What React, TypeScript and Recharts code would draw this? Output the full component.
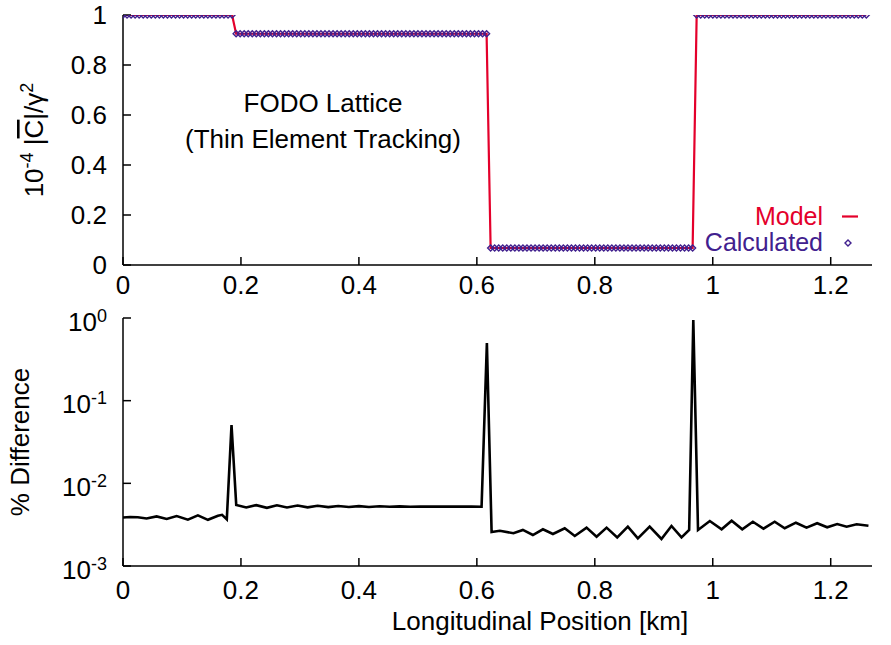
import React from 'react';
import { LineChart, Line, XAxis, YAxis } from 'recharts';

const FONT = '"Liberation Sans", Arial, Helvetica, sans-serif';
const RED = '#e4002b';
const VIOLET = '#41208e';

// tracking output positions along the lattice, one every TOP_STEP km
const TOP_STEP = 0.00685;

// 10^-4 |C|/gamma^2 , model
const modelValues = [
  1, 1, 1, 1, 1, 1, 1, 1, 1, 1, 1, 1, 1, 1, 1, 1, 1, 1, 1, 1, 1, 1, 1, 1, 1, 1, 1, 1,
  0.925, 0.925, 0.925, 0.925, 0.925, 0.925, 0.925, 0.925, 0.925, 0.925, 0.925, 0.925, 0.925,
  0.925, 0.925, 0.925, 0.925, 0.925, 0.925, 0.925, 0.925, 0.925, 0.925, 0.925, 0.925, 0.925,
  0.925, 0.925, 0.925, 0.925, 0.925, 0.925, 0.925, 0.925, 0.925, 0.925, 0.925, 0.925, 0.925,
  0.925, 0.925, 0.925, 0.925, 0.925, 0.925, 0.925, 0.925, 0.925, 0.925, 0.925, 0.925, 0.925,
  0.925, 0.925, 0.925, 0.925, 0.925, 0.925, 0.925, 0.925, 0.925, 0.925, 0.925,
  0.068, 0.068, 0.068, 0.068, 0.068, 0.068, 0.068, 0.068, 0.068, 0.068, 0.068, 0.068, 0.068,
  0.068, 0.068, 0.068, 0.068, 0.068, 0.068, 0.068, 0.068, 0.068, 0.068, 0.068, 0.068, 0.068,
  0.068, 0.068, 0.068, 0.068, 0.068, 0.068, 0.068, 0.068, 0.068, 0.068, 0.068, 0.068, 0.068,
  0.068, 0.068, 0.068, 0.068, 0.068, 0.068, 0.068, 0.068, 0.068, 0.068, 0.068, 0.068,
  1, 1, 1, 1, 1, 1, 1, 1, 1, 1, 1, 1, 1, 1, 1, 1, 1, 1, 1, 1, 1, 1,
  1, 1, 1, 1, 1, 1, 1, 1, 1, 1, 1, 1, 1, 1, 1, 1, 1, 1, 1, 1, 1,
];
// calculated values agree with the model to within the plot resolution
const calcValues = modelValues;

const xTicks = [0, 0.2, 0.4, 0.6, 0.8, 1, 1.2];
const topYTicks = [0, 0.2, 0.4, 0.6, 0.8, 1];
const logTicks = [0.001, 0.01, 0.1, 1];
const logMinorTicks = [
  0.002, 0.003, 0.004, 0.005, 0.006, 0.007, 0.008, 0.009,
  0.02, 0.03, 0.04, 0.05, 0.06, 0.07, 0.08, 0.09,
  0.2, 0.3, 0.4, 0.5, 0.6, 0.7, 0.8, 0.9,
];

// % difference
const diffX = [
  0, 0.012, 0.025, 0.04, 0.057, 0.074, 0.091, 0.11, 0.127, 0.144, 0.161, 0.168, 0.176,
  0.184, 0.192,
  0.209, 0.226, 0.244, 0.261, 0.278, 0.296, 0.313, 0.33, 0.348, 0.365, 0.383, 0.4,
  0.417, 0.435, 0.452, 0.469, 0.487, 0.504, 0.522, 0.539, 0.556, 0.574, 0.591, 0.608,
  0.617, 0.625,
  0.639, 0.662, 0.678, 0.695, 0.712, 0.729, 0.749, 0.766, 0.786, 0.803,
  0.82, 0.838, 0.856, 0.873, 0.893, 0.913, 0.93, 0.947, 0.96,
  0.967, 0.975,
  0.995, 1.015, 1.032, 1.05, 1.068, 1.086, 1.105, 1.122,
  1.141, 1.159, 1.177, 1.194, 1.211, 1.227, 1.244, 1.264,
];
const diffY = [
  0.00386, 0.00392, 0.00388, 0.00376, 0.00398, 0.00371, 0.00402, 0.00364, 0.0041, 0.00362, 0.00406, 0.00416, 0.00367,
  0.0508, 0.00547,
  0.0051, 0.00545, 0.00505, 0.00542, 0.0051, 0.00538, 0.00512, 0.00535, 0.00515, 0.00532, 0.00517, 0.0053,
  0.00518, 0.00528, 0.0052, 0.00527, 0.00521, 0.00525, 0.00522, 0.00524, 0.00522, 0.00523, 0.00522, 0.00521,
  0.498, 0.00258,
  0.00267, 0.00249, 0.00273, 0.00237, 0.00278, 0.00244, 0.00286, 0.00231, 0.00291, 0.00226,
  0.00291, 0.00222, 0.00299, 0.00216, 0.00299, 0.00212, 0.00305, 0.00222, 0.00273,
  0.946, 0.00273,
  0.0035, 0.00278, 0.00353, 0.00278, 0.00343, 0.00283, 0.00343, 0.00286,
  0.00334, 0.00291, 0.00329, 0.00294, 0.00322, 0.00299, 0.0032, 0.00307,
];

const topData = modelValues.map((v, i) => ({ x: i * TOP_STEP, model: v, calc: calcValues[i] }));
const diffData = diffX.map((x, i) => ({ x, diff: diffY[i] }));

const tickFont = { fontSize: 26, fill: '#000', fontFamily: FONT };
const axisLine = { stroke: '#000', strokeWidth: 1.5 };

const renderDiamond = (p: any) => {
  const { cx, cy, index } = p;
  if (cx == null || cy == null) return <g key={`d${index}`} />;
  const r = 3;
  return (
    <path
      key={`d${index}`}
      d={`M${cx},${cy - r}L${cx + r},${cy}L${cx},${cy + r}L${cx - r},${cy}Z`}
      fill="none"
      stroke={VIOLET}
      strokeWidth={1.4}
    />
  );
};

const LogTick = (props: any) => {
  const { x, y, payload } = props;
  const exp = Math.round(Math.log10(payload.value));
  return (
    <text x={x} y={y} dy={12.5} textAnchor="end" fontSize={26} fontFamily={FONT} fill="#000">
      10
      <tspan dy={-9} fontSize={18}>{String(exp)}</tspan>
    </text>
  );
};

export default function App() {
  return (
    <div style={{ position: 'absolute', left: 0, top: 0, width: 891, height: 645, background: '#fff' }}>
      <div style={{ position: 'absolute', left: 0, top: 0 }}>
        <LineChart width={891} height={300} data={topData} margin={{ top: 15, right: 19, bottom: 0, left: 0 }}>
          <XAxis
            dataKey="x" type="number" domain={[0, 1.27]} ticks={xTicks} interval={0} allowDataOverflow
            height={35} tickSize={-8} tickMargin={19} tick={tickFont} tickFormatter={String}
            axisLine={axisLine} tickLine={axisLine}
          />
          <XAxis
            xAxisId="top" orientation="top" dataKey="x" type="number" domain={[0, 1.27]} ticks={xTicks}
            interval={0} allowDataOverflow height={0} tickSize={-8} tick={false}
            axisLine={axisLine} tickLine={axisLine}
          />
          <YAxis
            type="number" domain={[0, 1]} ticks={topYTicks} interval={0} allowDataOverflow width={123}
            tickSize={-8} tickMargin={24} tick={tickFont} tickFormatter={String}
            axisLine={axisLine} tickLine={axisLine}
          />
          <YAxis
            yAxisId="right" orientation="right" type="number" domain={[0, 1]} ticks={topYTicks} interval={0}
            width={0} tickSize={-8} tick={false} axisLine={axisLine} tickLine={axisLine}
          />
          <Line dataKey="model" type="linear" stroke={RED} strokeWidth={2.2} dot={false} activeDot={false} isAnimationActive={false} />
          <Line dataKey="calc" type="linear" stroke="none" dot={renderDiamond} activeDot={false} isAnimationActive={false} />
        </LineChart>
      </div>
      <div style={{ position: 'absolute', left: 0, top: 300 }}>
        <LineChart width={891} height={345} data={diffData} margin={{ top: 18, right: 19, bottom: 0, left: 0 }}>
          <XAxis
            dataKey="x" type="number" domain={[0, 1.27]} ticks={xTicks} interval={0} allowDataOverflow
            height={79} tickSize={-8} tickMargin={23} tick={tickFont} tickFormatter={String}
            axisLine={axisLine} tickLine={axisLine}
          />
          <XAxis
            xAxisId="top" orientation="top" dataKey="x" type="number" domain={[0, 1.27]} ticks={xTicks}
            interval={0} allowDataOverflow height={0} tickSize={-8} tick={false}
            axisLine={axisLine} tickLine={axisLine}
          />
          <YAxis
            yAxisId="minorL" scale="log" type="number" domain={[0.001, 1]} ticks={logMinorTicks} interval={0}
            allowDataOverflow width={0} tickSize={-4} tick={false} axisLine={false} tickLine={axisLine}
          />
          <YAxis
            scale="log" type="number" domain={[0.001, 1]} ticks={logTicks} interval={0} allowDataOverflow
            width={123} tickSize={-8} tickMargin={24} tick={<LogTick />}
            axisLine={axisLine} tickLine={axisLine}
          />
          <YAxis
            yAxisId="minorR" orientation="right" scale="log" type="number" domain={[0.001, 1]} ticks={logMinorTicks}
            interval={0} allowDataOverflow width={0} tickSize={-4} tick={false} axisLine={false} tickLine={axisLine}
          />
          <YAxis
            yAxisId="right" orientation="right" scale="log" type="number" domain={[0.001, 1]} ticks={logTicks}
            interval={0} allowDataOverflow width={0} tickSize={-8} tick={false}
            axisLine={axisLine} tickLine={axisLine}
          />
          <Line dataKey="diff" type="linear" stroke="#000" strokeWidth={2.6} dot={false} activeDot={false} isAnimationActive={false} />
        </LineChart>
      </div>
      <svg
        width={891} height={645}
        style={{ position: 'absolute', left: 0, top: 0, pointerEvents: 'none' }}
        fontFamily={FONT}
      >
        <text transform="translate(43,140) rotate(-90)" textAnchor="middle" fontSize={26} fill="#000">
          10<tspan dy={-10} fontSize={18}>-4</tspan>
          <tspan dy={10}> |</tspan>
          <tspan style={{ textDecoration: 'overline' }}>C</tspan>
          <tspan>|/γ</tspan>
          <tspan dy={-10} fontSize={18}>2</tspan>
        </text>
        <text transform="translate(29,442) rotate(-90)" textAnchor="middle" fontSize={26} fill="#000">% Difference</text>
        <text x={323} y={112} textAnchor="middle" fontSize={26} fill="#000">FODO Lattice</text>
        <text x={323} y={148} textAnchor="middle" fontSize={26} fill="#000">(Thin Element Tracking)</text>
        <text x={823} y={225} textAnchor="end" fontSize={25} fill={RED}>Model</text>
        <line x1={842} x2={858} y1={216.5} y2={216.5} stroke={RED} strokeWidth={2.2} />
        <text x={823} y={251} textAnchor="end" fontSize={25} fill={VIOLET}>Calculated</text>
        <path d="M848,240L851,243L848,246L845,243Z" fill="none" stroke={VIOLET} strokeWidth={1.4} />
        <text x={540} y={630} textAnchor="middle" fontSize={26} fill="#000">Longitudinal Position [km]</text>
      </svg>
    </div>
  );
}
